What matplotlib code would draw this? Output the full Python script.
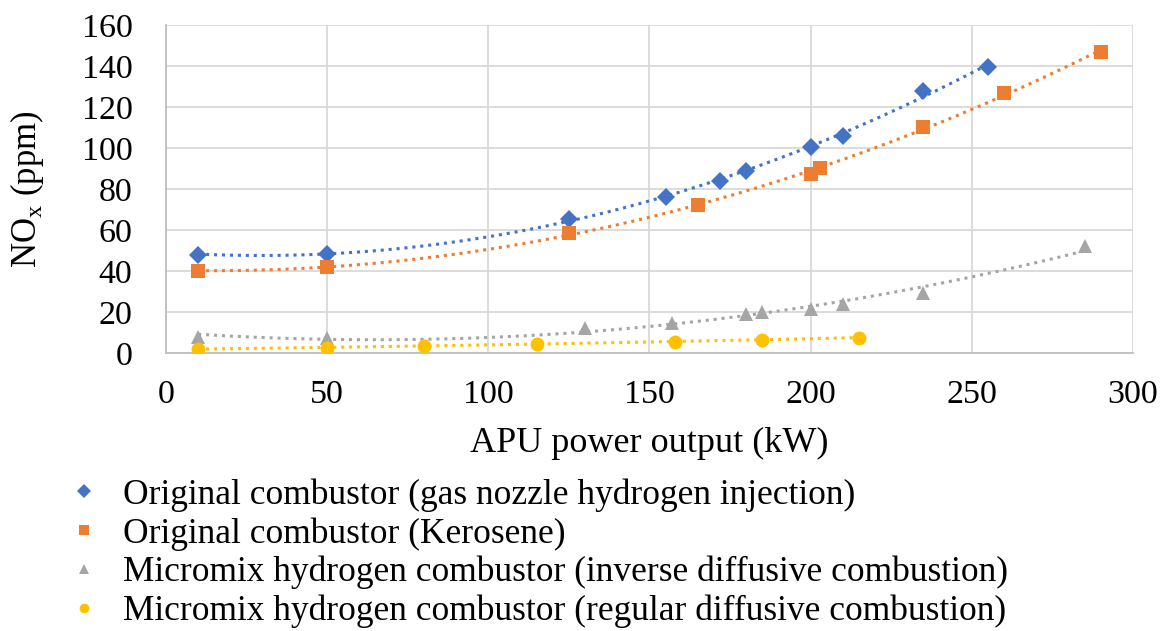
import numpy as np
import matplotlib.pyplot as plt
from matplotlib.lines import Line2D

plt.rcParams['font.family'] = ['Liberation Serif', 'DejaVu Serif']
plt.rcParams['mathtext.fontset'] = 'custom'
plt.rcParams['mathtext.rm'] = 'Liberation Serif'

# === NOx emissions vs APU power output ===
gas_nozzle_kw = [10, 50, 125, 155, 172, 180, 200, 210, 235, 255]
gas_nozzle_nox = [48, 48.5, 65.5, 76, 84, 89, 100.5, 106, 128, 139.5]

kerosene_kw = [10, 50, 125, 165, 200, 203, 235, 260, 290]
kerosene_nox = [40, 42, 58.5, 72, 87.5, 90, 110, 127, 147]

inverse_kw = [10, 50, 130, 157, 180, 185, 200, 210, 235, 285]
inverse_nox = [8, 7.5, 12, 14.5, 19, 20, 21.5, 24, 29.5, 52]

regular_kw = [10, 50, 80, 115, 158, 185, 215]
regular_nox = [2, 2.5, 3.5, 4.5, 5.5, 6.5, 7.5]

labels = [
    "Original combustor (gas nozzle hydrogen injection)",
    "Original combustor (Kerosene)",
    "Micromix hydrogen combustor (inverse diffusive combustion)",
    "Micromix hydrogen combustor (regular diffusive combustion)",
]

series = [
    (gas_nozzle_kw, gas_nozzle_nox, "#4472C4", "D", 9),
    (kerosene_kw, kerosene_nox, "#ED7D31", "s", 10),
    (inverse_kw, inverse_nox, "#A5A5A5", "^", 10),
    (regular_kw, regular_nox, "#FFC000", "o", 10),
]

fig = plt.figure(figsize=(11.67, 6.31), dpi=100)
ax = fig.add_axes([0.1422, 0.4406, 0.8286, 0.5198])

handles = []
for (x, y, color, marker, ms), label in zip(series, labels):
    x = np.array(x, dtype=float)
    y = np.array(y, dtype=float)
    # 2nd order polynomial trendline
    coef = np.polyfit(x, y, 2)
    xs = np.linspace(x.min(), x.max(), 200)
    ax.plot(xs, np.polyval(coef, xs), color=color, lw=2.2,
            linestyle=(0, (1, 1.6)), zorder=2)
    ax.plot(x, y, linestyle='none', marker=marker, color=color, ms=ms,
            markeredgewidth=0, zorder=3)
    handles.append(Line2D([], [], linestyle='none', marker=marker, color=color,
                          ms=7, markeredgewidth=0, label=label))

ax.set_xlim(0, 300)
ax.set_ylim(0, 160)
ax.set_xticks(np.arange(0, 301, 50))
ax.set_yticks(np.arange(0, 161, 20))
ax.grid(True, color="#D9D9D9", lw=1.3)
ax.set_axisbelow(True)
for side in ['top', 'right']:
    ax.spines[side].set_visible(False)
for side in ['left', 'bottom']:
    ax.spines[side].set_color("#BFBFBF")
    ax.spines[side].set_linewidth(1.3)
ax.tick_params(axis='both', length=0, labelsize=24.5)
ax.tick_params(axis='x', pad=19)
ax.tick_params(axis='y', pad=24)

ax.set_xlabel("APU power output (kW)", fontsize=26, labelpad=12)
ax.set_ylabel("NO$_\\mathrm{x}$ (ppm)", fontsize=25, labelpad=26)

fig.legend(handles=handles, loc='upper left', bbox_to_anchor=(0.06, 0.242),
           frameon=False, fontsize=25.5, handlelength=0.8, handletextpad=0.7,
           labelspacing=0.15, borderpad=0, borderaxespad=0)

fig.savefig("out.png", dpi=100)
